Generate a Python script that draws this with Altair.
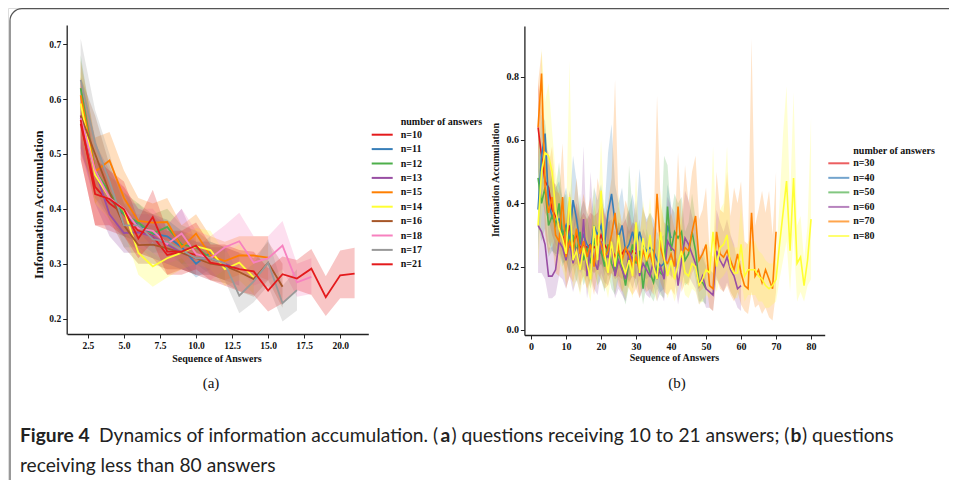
import altair as alt
import pandas as pd

W, H = 941, 472
SERIF = "Liberation Serif"
SANS = "Lato"

# ---------------- panel (a): questions receiving 10 to 21 answers ----------------
A_SERIES = ["n=10", "n=11", "n=12", "n=13", "n=15", "n=14", "n=16", "n=18", "n=17", "n=21"]
A_COLORS = ["#e41a1c", "#377eb8", "#4daf4a", "#984ea3", "#ff7f00", "#ffff33",
            "#a65628", "#f781bf", "#999999", "#e41a1c"]
A_MEAN = [
    [0.555, 0.44, 0.41, 0.39, 0.36, 0.35, 0.316, 0.322, 0.316],
    [0.565, 0.47, 0.42, 0.39, 0.37, 0.355, 0.35, 0.33, 0.30, 0.32],
    [0.62, 0.47, 0.43, 0.39, 0.375, 0.355, 0.367, 0.335, 0.33, 0.31, 0.30],
    [0.57, 0.47, 0.39, 0.356, 0.357, 0.35, 0.335, 0.32, 0.31, 0.31, 0.30, 0.29],
    [0.607, 0.468, 0.488, 0.42, 0.378, 0.375, 0.376, 0.33, 0.355, 0.315, 0.305, 0.315, 0.315, 0.311],
    [0.592, 0.462, 0.42, 0.398, 0.32, 0.295, 0.31, 0.32, 0.332, 0.325, 0.29, 0.302, 0.275],
    [0.57, 0.50, 0.43, 0.37, 0.334, 0.335, 0.328, 0.32, 0.31, 0.30, 0.296, 0.285, 0.272, 0.302, 0.258],
    [0.565, 0.47, 0.42, 0.40, 0.365, 0.36, 0.336, 0.355, 0.318, 0.31, 0.33, 0.341, 0.302, 0.31, 0.333, 0.266, 0.276],
    [0.635, 0.52, 0.45, 0.37, 0.37, 0.345, 0.34, 0.325, 0.31, 0.31, 0.30, 0.242, 0.268, 0.302, 0.228, 0.252],
    [0.562, 0.427, 0.418, 0.399, 0.346, 0.385, 0.322, 0.322, 0.333, 0.302, 0.297, 0.290, 0.286, 0.251,
     0.281, 0.273, 0.291, 0.239, 0.279, 0.282],
]
A_LO = [
    [0.49, 0.37, 0.36, 0.35, 0.32, 0.31, 0.28, 0.29, 0.28],
    [0.51, 0.42, 0.38, 0.35, 0.34, 0.32, 0.32, 0.30, 0.275, 0.29],
    [0.56, 0.42, 0.39, 0.35, 0.34, 0.32, 0.33, 0.30, 0.30, 0.28, 0.27],
    [0.51, 0.41, 0.35, 0.32, 0.32, 0.31, 0.30, 0.29, 0.28, 0.28, 0.27, 0.26],
    [0.53, 0.41, 0.44, 0.37, 0.34, 0.34, 0.34, 0.30, 0.32, 0.28, 0.27, 0.28, 0.28, 0.27],
    [0.53, 0.41, 0.38, 0.36, 0.28, 0.258, 0.275, 0.29, 0.30, 0.29, 0.26, 0.27, 0.245],
    [0.50, 0.44, 0.38, 0.33, 0.30, 0.30, 0.29, 0.29, 0.28, 0.27, 0.265, 0.25, 0.24, 0.27, 0.22],
    [0.50, 0.42, 0.37, 0.36, 0.33, 0.32, 0.30, 0.31, 0.28, 0.27, 0.29, 0.29, 0.26, 0.27, 0.29, 0.24, 0.245],
    [0.56, 0.46, 0.40, 0.33, 0.33, 0.31, 0.30, 0.29, 0.28, 0.28, 0.27, 0.21, 0.23, 0.26, 0.195, 0.215],
    [0.49, 0.37, 0.37, 0.35, 0.31, 0.34, 0.28, 0.28, 0.29, 0.27, 0.26, 0.25, 0.243, 0.213,
     0.228, 0.252, 0.243, 0.205, 0.237, 0.237],
]
A_HI = [
    [0.63, 0.51, 0.46, 0.44, 0.40, 0.39, 0.35, 0.36, 0.35],
    [0.62, 0.52, 0.46, 0.43, 0.40, 0.39, 0.38, 0.36, 0.33, 0.35],
    [0.68, 0.52, 0.47, 0.43, 0.41, 0.39, 0.40, 0.37, 0.36, 0.34, 0.33],
    [0.63, 0.53, 0.43, 0.39, 0.39, 0.39, 0.37, 0.40, 0.34, 0.34, 0.33, 0.32],
    [0.67, 0.53, 0.54, 0.47, 0.42, 0.41, 0.42, 0.37, 0.39, 0.35, 0.34, 0.35, 0.35, 0.35],
    [0.65, 0.51, 0.46, 0.43, 0.36, 0.33, 0.345, 0.35, 0.365, 0.36, 0.32, 0.335, 0.305],
    [0.64, 0.57, 0.48, 0.41, 0.37, 0.37, 0.36, 0.35, 0.34, 0.33, 0.33, 0.32, 0.31, 0.34, 0.30],
    [0.63, 0.52, 0.47, 0.44, 0.40, 0.40, 0.37, 0.40, 0.36, 0.35, 0.37, 0.393, 0.35, 0.35, 0.378, 0.30, 0.31],
    [0.71, 0.58, 0.50, 0.41, 0.41, 0.38, 0.38, 0.36, 0.34, 0.34, 0.33, 0.28, 0.30, 0.345, 0.26, 0.29],
    [0.63, 0.49, 0.47, 0.45, 0.38, 0.435, 0.36, 0.36, 0.375, 0.335, 0.335, 0.325, 0.322, 0.292,
     0.313, 0.307, 0.327, 0.277, 0.324, 0.329],
]
A_XTICKS = [2.5, 5.0, 7.5, 10.0, 12.5, 15.0, 17.5, 20.0]
A_YTICKS = [0.2, 0.3, 0.4, 0.5, 0.6, 0.7]

# ---------------- panel (b): questions receiving less than 80 answers ----------------
B_SERIES = ["n=30", "n=40", "n=50", "n=60", "n=70", "n=80"]
B_COLORS = ["#e41a1c", "#377eb8", "#4daf4a", "#984ea3", "#ff7f00", "#ffff33"]
B_MEAN = [
    [0.64, 0.55, 0.47, 0.45, 0.38, 0.36, 0.33, 0.30, 0.25, 0.33, 0.28, 0.30, 0.26, 0.27, 0.26, 0.27, 0.26,
     0.27, 0.30, 0.27, 0.25, 0.26, 0.23, 0.25, 0.24, 0.26, 0.23, 0.25, 0.24],
    [0.38, 0.55, 0.62, 0.40, 0.36, 0.34, 0.35, 0.30, 0.33, 0.28, 0.41, 0.35, 0.27, 0.30, 0.27, 0.25, 0.33,
     0.30, 0.33, 0.27, 0.37, 0.43, 0.34, 0.29, 0.33, 0.25, 0.27, 0.31, 0.26, 0.31, 0.27, 0.25, 0.26, 0.25,
     0.22, 0.20, 0.21, 0.33, 0.29],
    [0.48, 0.40, 0.45, 0.33, 0.36, 0.33, 0.40, 0.30, 0.32, 0.26, 0.30, 0.24, 0.31, 0.22, 0.26, 0.21, 0.29,
     0.23, 0.25, 0.20, 0.27, 0.21, 0.18, 0.25, 0.20, 0.14, 0.22, 0.27, 0.21, 0.25, 0.13, 0.22, 0.18, 0.15,
     0.20, 0.18, 0.17, 0.39, 0.25, 0.31, 0.29, 0.31, 0.22, 0.24, 0.31, 0.25, 0.15, 0.15, 0.13],
    [0.33, 0.31, 0.27, 0.17, 0.17, 0.19, 0.28, 0.26, 0.22, 0.28, 0.21, 0.26, 0.20, 0.35, 0.17, 0.27, 0.22,
     0.19, 0.28, 0.24, 0.23, 0.28, 0.17, 0.22, 0.19, 0.16, 0.25, 0.22, 0.27, 0.17, 0.21, 0.19, 0.17, 0.22,
     0.16, 0.20, 0.16, 0.28, 0.26, 0.25, 0.14, 0.22, 0.29, 0.27, 0.24, 0.21, 0.14, 0.17, 0.13, 0.12, 0.11,
     0.25, 0.22, 0.20, 0.23, 0.19, 0.17, 0.13, 0.14],
    [0.64, 0.81, 0.45, 0.37, 0.42, 0.30, 0.28, 0.42, 0.23, 0.28, 0.25, 0.32, 0.24, 0.28, 0.23, 0.27, 0.20,
     0.30, 0.27, 0.23, 0.25, 0.30, 0.37, 0.25, 0.22, 0.26, 0.24, 0.20, 0.23, 0.19, 0.25, 0.22, 0.24, 0.20,
     0.43, 0.26, 0.22, 0.21, 0.24, 0.20, 0.39, 0.23, 0.26, 0.25, 0.31, 0.36, 0.22, 0.24, 0.27, 0.14, 0.13,
     0.31, 0.24, 0.23, 0.25, 0.22, 0.19, 0.24, 0.18, 0.14, 0.13, 0.37, 0.17, 0.19, 0.15, 0.19, 0.16, 0.13, 0.31],
    [0.33, 0.50, 0.56, 0.55, 0.50, 0.38, 0.32, 0.29, 0.24, 0.42, 0.22, 0.25, 0.19, 0.26, 0.21, 0.16, 0.33,
     0.22, 0.44, 0.24, 0.18, 0.28, 0.20, 0.30, 0.21, 0.18, 0.22, 0.17, 0.34, 0.18, 0.29, 0.22, 0.30, 0.20,
     0.16, 0.31, 0.23, 0.17, 0.22, 0.16, 0.21, 0.25, 0.18, 0.17, 0.21, 0.20, 0.14, 0.16, 0.19, 0.18, 0.31,
     0.20, 0.26, 0.27, 0.30, 0.20, 0.18, 0.18, 0.27, 0.17, 0.19, 0.19, 0.19, 0.17, 0.16, 0.14, 0.13, 0.14,
     0.16, 0.27, 0.37, 0.47, 0.25, 0.48, 0.21, 0.23, 0.14, 0.22, 0.35],
]
B_LO = [
    [0.50, 0.42, 0.37, 0.35, 0.30, 0.27, 0.25, 0.22, 0.18, 0.24, 0.20, 0.21, 0.19, 0.19, 0.18, 0.19, 0.18,
     0.19, 0.21, 0.19, 0.17, 0.18, 0.16, 0.17, 0.16, 0.18, 0.15, 0.17, 0.16],
    [0.25, 0.42, 0.48, 0.28, 0.25, 0.24, 0.24, 0.21, 0.22, 0.18, 0.27, 0.23, 0.18, 0.20, 0.18, 0.16, 0.21,
     0.19, 0.21, 0.17, 0.23, 0.27, 0.22, 0.19, 0.21, 0.16, 0.17, 0.20, 0.17, 0.19, 0.17, 0.16, 0.17, 0.16,
     0.14, 0.12, 0.13, 0.21, 0.18],
    [0.33, 0.28, 0.32, 0.23, 0.25, 0.23, 0.28, 0.20, 0.22, 0.17, 0.20, 0.15, 0.21, 0.14, 0.17, 0.13, 0.19,
     0.14, 0.16, 0.12, 0.18, 0.13, 0.11, 0.16, 0.12, 0.08, 0.14, 0.18, 0.13, 0.16, 0.08, 0.14, 0.11, 0.09,
     0.13, 0.11, 0.10, 0.27, 0.16, 0.21, 0.19, 0.21, 0.14, 0.15, 0.21, 0.16, 0.09, 0.09, 0.08],
    [0.18, 0.18, 0.16, 0.10, 0.10, 0.11, 0.17, 0.16, 0.13, 0.17, 0.12, 0.16, 0.12, 0.22, 0.10, 0.17, 0.13,
     0.11, 0.18, 0.15, 0.14, 0.18, 0.10, 0.13, 0.11, 0.09, 0.16, 0.13, 0.17, 0.10, 0.13, 0.11, 0.10, 0.14,
     0.09, 0.12, 0.09, 0.18, 0.17, 0.16, 0.08, 0.14, 0.19, 0.17, 0.15, 0.13, 0.08, 0.10, 0.07, 0.07, 0.06,
     0.16, 0.14, 0.12, 0.15, 0.12, 0.10, 0.07, 0.06],
    [0.52, 0.70, 0.30, 0.24, 0.28, 0.18, 0.17, 0.27, 0.13, 0.17, 0.15, 0.20, 0.14, 0.17, 0.13, 0.16, 0.11,
     0.18, 0.16, 0.13, 0.14, 0.18, 0.20, 0.14, 0.12, 0.15, 0.13, 0.11, 0.13, 0.10, 0.14, 0.12, 0.13, 0.11,
     0.21, 0.15, 0.12, 0.11, 0.13, 0.11, 0.22, 0.12, 0.15, 0.14, 0.18, 0.20, 0.12, 0.13, 0.15, 0.07, 0.06,
     0.17, 0.13, 0.12, 0.14, 0.11, 0.09, 0.12, 0.08, 0.06, 0.05, 0.12, 0.07, 0.08, 0.05, 0.07, 0.04, 0.03, 0.12],
    [0.20, 0.36, 0.42, 0.42, 0.38, 0.27, 0.22, 0.19, 0.15, 0.28, 0.13, 0.16, 0.11, 0.17, 0.13, 0.09, 0.21,
     0.13, 0.30, 0.15, 0.10, 0.18, 0.12, 0.19, 0.13, 0.10, 0.14, 0.10, 0.22, 0.11, 0.18, 0.13, 0.19, 0.12,
     0.09, 0.20, 0.14, 0.10, 0.13, 0.09, 0.13, 0.16, 0.11, 0.10, 0.13, 0.12, 0.08, 0.09, 0.11, 0.10, 0.18,
     0.12, 0.16, 0.17, 0.19, 0.12, 0.10, 0.10, 0.16, 0.09, 0.11, 0.11, 0.11, 0.09, 0.09, 0.07, 0.07, 0.08,
     0.09, 0.16, 0.22, 0.28, 0.12, 0.30, 0.09, 0.12, 0.09, 0.14, 0.16],
]
B_HI = [
    [0.78, 0.70, 0.58, 0.56, 0.47, 0.46, 0.43, 0.39, 0.34, 0.44, 0.37, 0.40, 0.35, 0.37, 0.35, 0.37, 0.36,
     0.37, 0.41, 0.37, 0.34, 0.35, 0.31, 0.34, 0.33, 0.35, 0.31, 0.34, 0.33],
    [0.52, 0.68, 0.66, 0.53, 0.48, 0.45, 0.47, 0.41, 0.45, 0.39, 0.55, 0.47, 0.37, 0.41, 0.37, 0.35, 0.45,
     0.41, 0.46, 0.38, 0.56, 0.65, 0.46, 0.40, 0.45, 0.35, 0.38, 0.43, 0.36, 0.51, 0.38, 0.35, 0.37, 0.35,
     0.31, 0.29, 0.30, 0.46, 0.40],
    [0.62, 0.55, 0.65, 0.45, 0.49, 0.44, 0.53, 0.41, 0.43, 0.36, 0.41, 0.34, 0.43, 0.31, 0.36, 0.30, 0.40,
     0.33, 0.35, 0.29, 0.38, 0.30, 0.27, 0.35, 0.29, 0.23, 0.52, 0.38, 0.30, 0.35, 0.20, 0.32, 0.27, 0.24,
     0.29, 0.27, 0.55, 0.52, 0.36, 0.43, 0.40, 0.42, 0.31, 0.34, 0.43, 0.35, 0.24, 0.23, 0.20],
    [0.46, 0.44, 0.38, 0.26, 0.26, 0.29, 0.41, 0.37, 0.33, 0.42, 0.31, 0.39, 0.30, 0.58, 0.26, 0.50, 0.33,
     0.29, 0.42, 0.36, 0.34, 0.43, 0.26, 0.33, 0.29, 0.25, 0.38, 0.33, 0.41, 0.26, 0.32, 0.29, 0.26, 0.33,
     0.24, 0.31, 0.24, 0.42, 0.39, 0.37, 0.22, 0.33, 0.44, 0.41, 0.36, 0.32, 0.22, 0.26, 0.21, 0.19, 0.18,
     0.38, 0.34, 0.31, 0.35, 0.30, 0.27, 0.21, 0.22],
    [0.78, 0.88, 0.60, 0.52, 0.58, 0.44, 0.43, 0.59, 0.35, 0.42, 0.38, 0.48, 0.36, 0.43, 0.37, 0.42, 0.33,
     0.48, 0.42, 0.36, 0.40, 0.48, 0.79, 0.39, 0.34, 0.41, 0.37, 0.31, 0.35, 0.30, 0.39, 0.34, 0.37, 0.32,
     0.74, 0.40, 0.34, 0.33, 0.37, 0.32, 0.56, 0.35, 0.52, 0.40, 0.50, 0.55, 0.35, 0.38, 0.45, 0.25, 0.23,
     0.50, 0.38, 0.37, 0.50, 0.36, 0.45, 0.40, 0.47, 0.28, 0.27, 0.92, 0.33, 0.38, 0.44, 0.37, 0.44, 0.30, 0.50],
    [0.45, 0.89, 0.72, 0.78, 0.63, 0.50, 0.44, 0.40, 0.34, 0.85, 0.31, 0.35, 0.27, 0.36, 0.30, 0.24, 0.46,
     0.32, 0.60, 0.34, 0.26, 0.39, 0.28, 0.43, 0.30, 0.26, 0.31, 0.25, 0.49, 0.26, 0.41, 0.31, 0.42, 0.29,
     0.24, 0.44, 0.33, 0.25, 0.31, 0.24, 0.30, 0.36, 0.26, 0.25, 0.30, 0.28, 0.21, 0.24, 0.28, 0.26, 0.58,
     0.29, 0.38, 0.40, 0.58, 0.29, 0.26, 0.26, 0.40, 0.25, 0.28, 0.28, 0.28, 0.25, 0.24, 0.22, 0.21, 0.21,
     0.23, 0.40, 0.62, 0.77, 0.40, 0.75, 0.33, 0.36, 0.22, 0.33, 0.67],
]
B_XTICKS = [0, 10, 20, 30, 40, 50, 60, 70, 80]
B_YTICKS = [0.0, 0.2, 0.4, 0.6, 0.8]

# ---------------- texts ----------------
LEGEND_TITLE = "number of answers"
X_TITLE = "Sequence of Answers"
Y_TITLE = "Information Accumulation"
SUB_LABELS = ["(a)", "(b)"]
CAPTION = [
    ("Figure 4", True), ("Dynamics of information accumulation. (", False), ("a", True),
    (") questions receiving 10 to 21 answers; (", False), ("b", True), (") questions", False),
]
CAPTION_2 = "receiving less than 80 answers"


def long_table(names, means, los, his):
    rows = []
    for name, m, lo, hi in zip(names, means, los, his, strict=True):
        for i, (v, l, h) in enumerate(zip(m, lo, hi, strict=True)):
            rows.append({"series": name, "x": 2 + i, "y": v, "lo": l, "hi": h})
    return pd.DataFrame(rows)


def axis(orient, offset, values, fmt, size):
    return alt.Axis(orient=orient, offset=offset, values=values, format=fmt, title=None, grid=False,
                    domainColor="#222222", domainWidth=1.3, tickColor="#222222", tickWidth=1,
                    tickSize=4, labelFont=SERIF, labelFontWeight="bold", labelFontSize=size,
                    labelColor="#111111", labelPadding=2, labelFlush=False, labelOverlap=False)


def panel(df, names, colors, xdom, xrange, ydom, yrange, xticks, yticks, xfmt, yfmt,
          xoff, yoff, size, band_op, line_w):
    x = alt.X("x:Q", scale=alt.Scale(domain=xdom, range=xrange, nice=False, zero=False),
              axis=axis("bottom", xoff, xticks, xfmt, size))
    yscale = alt.Scale(domain=ydom, range=yrange, nice=False, zero=False)
    yax = axis("left", yoff, yticks, yfmt, size)
    color = alt.Color("series:N", scale=alt.Scale(domain=names, range=colors), legend=None)
    bands = alt.Chart(df).mark_area(opacity=band_op).encode(
        x=x, y=alt.Y("lo:Q", scale=yscale, axis=yax, stack=None), y2="hi:Q", color=color,
        detail="series:N")
    lines = alt.Chart(df).mark_line(strokeWidth=line_w).encode(
        x=x, y=alt.Y("y:Q", scale=yscale, axis=yax), color=color, detail="series:N")
    return alt.layer(bands, lines)


def legend(names, colors, rows_range, x_sym, x_lab, op):
    ldf = pd.DataFrame({"series": names, "row": list(range(len(names)))})
    y = alt.Y("row:Q", scale=alt.Scale(domain=[0, len(names) - 1], range=rows_range), axis=None)
    color = alt.Color("series:N", scale=alt.Scale(domain=names, range=colors), legend=None)
    sym = alt.Chart(ldf).mark_rule(strokeWidth=2, opacity=op).encode(
        x=alt.value(x_sym), x2=alt.value(x_sym + 21), y=y, color=color)
    lab = alt.Chart(ldf).mark_text(align="left", baseline="middle", font=SERIF, fontWeight="bold",
                                   fontSize=10, color="#111111").encode(
        x=alt.value(x_lab), y=y, text="series:N")
    return alt.layer(sym, lab)


def text(t, x, y, size, font=SERIF, weight="normal", angle=0, align="center", color="#111111"):
    return alt.Chart(pd.DataFrame({"t": [t]})).mark_text(
        font=font, fontSize=size, fontWeight=weight, angle=angle, align=align,
        baseline="middle", color=color).encode(text="t:N", x=alt.value(x), y=alt.value(y))


df_a = long_table(A_SERIES, A_MEAN, A_LO, A_HI)
df_b = long_table(B_SERIES, B_MEAN, B_LO, B_HI)

panel_a = panel(df_a, A_SERIES, A_COLORS, [1.05, 21.95], [59, 360.3], [0.172, 0.735], [326, 17],
                A_XTICKS, A_YTICKS, ".1f", ".1f", -146, -58.7, 9.5, 0.25, 1.8)
panel_b = panel(df_b, B_SERIES, B_COLORS, [-1.9, 83.9], [516.4, 816.7], [-0.016, 0.96], [327, 18],
                B_XTICKS, B_YTICKS, "d", ".1f", -145, -516.4, 10, 0.22, 1.6)

legend_a = legend(A_SERIES, A_COLORS, [126.7, 256.3], 363.7, 392.7, 1.0)
legend_b = legend(B_SERIES, B_COLORS, [155.3, 228.0], 820.3, 845.3, 0.7)

frame = alt.Chart(pd.DataFrame({"k": [0]})).mark_rect(
    filled=False, stroke="#555555", strokeWidth=1.2, cornerRadius=12).encode(
    x=alt.value(2), x2=alt.value(1400), y=alt.value(0.7), y2=alt.value(900))

texts = [
    text(LEGEND_TITLE, 392.7, 114, 10, weight="bold", align="left"),
    text(LEGEND_TITLE, 845.3, 142.7, 10, weight="bold", align="left"),
    text(Y_TITLE, 31, 196.7, 13, weight="bold", angle=270),
    text(X_TITLE, 209, 351.3, 10, weight="bold"),
    text(Y_TITLE, 487.5, 172, 10, weight="bold", angle=270),
    text(X_TITLE, 666.5, 350.3, 10, weight="bold"),
    text(SUB_LABELS[0], 203, 375, 15),
    text(SUB_LABELS[1], 669, 375, 15),
]
cap_x = [12, 91, 432.5, 443.5, 782.5, 794]
for (seg, bold), cx in zip(CAPTION, cap_x, strict=True):
    texts.append(text(seg, cx, 428, 19.2, font=SANS, weight="bold" if bold else "normal",
                      align="left", color="#222222"))
texts.append(text(CAPTION_2, 12, 458, 19.2, font=SANS, align="left", color="#222222"))

chart = alt.layer(frame, panel_a, panel_b, legend_a, legend_b, *texts).resolve_scale(
    x="independent", y="independent", color="independent"
).properties(
    width=W, height=H, autosize=alt.AutoSizeParams(type="none"), padding=0
).configure_view(stroke=None).configure(background="white")

chart.save("out.html", embed_options={"renderer": "svg", "actions": False})
